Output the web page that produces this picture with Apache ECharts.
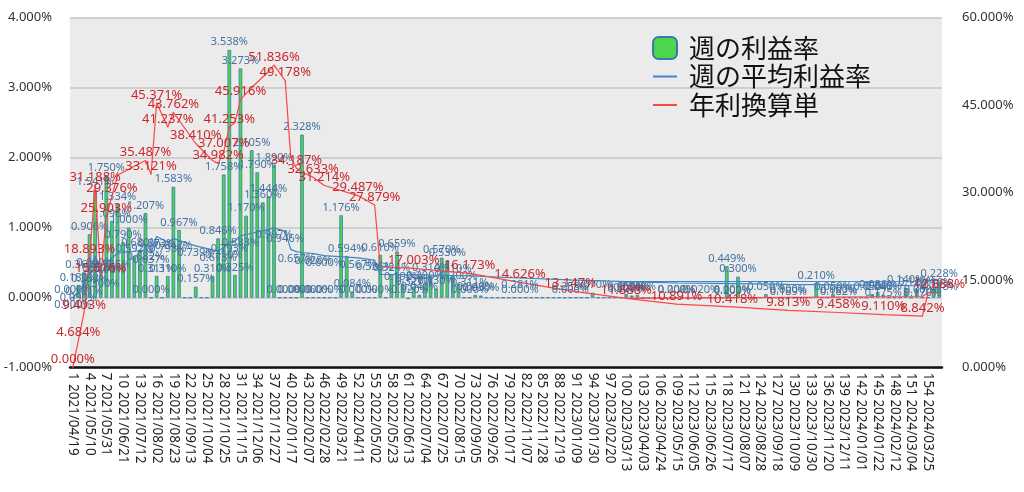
<!DOCTYPE html>
<html><head><meta charset="utf-8">
<script src="https://cdn.jsdelivr.net/npm/echarts@6/dist/echarts.min.js"></script>
<style>html,body{margin:0;padding:0;background:#fff}#c{width:1024px;height:492px}</style>
</head><body><div id="c"></div>
<script>
// ---- data ----
const startDate = '2021-04-19';
const weekCount = 156;
const seriesNames = ['週の利益率', '週の平均利益率', '年利換算単'];
// weekly profit rate (%), one per week
const weekly = [
 0, 0.18, 0.362, 0.906, 1.541, 0.318, 1.75, 1.096, 1.334, 0.79,
 1.0, 0.592, 0.68, 1.207, 0, 0.311, 0, 0.31, 1.583, 0.967,
 0, 0, 0.157, 0, 0, 0.31, 0.846, 1.758, 3.538, 0.325,
 3.273, 1.17, 2.105, 1.79, 1.36, 1.444, 1.89, 0, 0, 0,
 0, 2.328, 0, 0, 0, 0, 0, 0, 1.176, 0.594,
 0.084, 0, 0, 0, 0, 0.61, 0, 0.324, 0.659, 0.192,
 -0.02, 0.157, 0.04, 0.2, 0.314, 0.13, 0.57, 0.53, 0.31, 0.2,
 0, 0, 0.04, 0.03, 0, 0, 0, 0, 0, 0,
 0, 0, 0, 0, 0, 0, 0, 0, 0, 0,
 0, 0, 0, 0.07, 0, 0, 0, 0, 0, 0.05,
 0.03, 0.04, 0, 0, 0, 0, 0, 0, 0, 0,
 0, 0, -0.02, 0, 0, 0, 0, 0.449, 0, 0.3,
 0, 0, 0, 0, 0.05, 0, 0, 0, 0, 0,
 0, 0, 0, 0.21, 0, 0, 0.05, 0, 0, 0,
 0, 0, 0, 0.05, 0.08, 0.04, 0, 0, 0, 0.14,
 0, 0.12, 0, 0, 0.11, 0.228
];
// average weekly rate (%): [week, value, label shown 1/0]
const avgPoints = [
 [1,0,1],[2,0.09,1],[3,0.181,1],[4,0.363,1],[5,0.6,1],[6,0.3,1],[7,0.498,1],[8,0.565,1],[9,0.635,0],[10,0.645,0],
 [12,0.663,0],[14,0.682,1],[15,0.637,1],[16,0.873,1],[18,0.793,1],[19,0.842,1],[23,0.739,1],[26,0.683,0],[27,0.673,1],[28,0.71,1],
 [29,0.793,1],[30,0.81,0],[31,0.883,1],[33,0.92,0],[36,0.975,0],[37,0.997,1],[39,0.946,1],[40,0.69,0],[41,0.657,1],[42,0.645,0],
 [44,0.628,1],[46,0.6,1],[52,0.567,1],[55,0.536,1],[56,0.333,0],[62,0.327,1],[72,0.311,1],[81,0.281,1],[90,0.253,1],[100,0.229,1],
 [109,0.209,1],[119,0.2,1],[129,0.189,1],[138,0.182,1],[146,0.175,1],[153,0.17,1],[154,0.247,0],[156,0.248,1]
];
// second, unlabeled trace of the average seen in the last part
const avgUpper = [[100,0.229],[153,0.234],[154,0.247]];
// annualized rate (%): [week, value, label shown 1/0]
const annualPoints = [
 [1,0,1],[2,4.684,1],[3,9.403,1],[4,18.893,1],[5,31.188,1],[6,15.616,1],[7,25.903,1],[8,29.376,1],[9,33.0,0],[10,33.5,0],
 [12,34.5,0],[14,35.487,1],[15,33.121,1],[16,45.371,1],[18,41.237,1],[19,43.762,1],[23,38.41,1],[26,35.5,0],[27,34.982,1],[28,37.007,1],
 [29,41.253,1],[30,42.0,0],[31,45.916,1],[33,48.0,0],[36,50.7,0],[37,51.836,1],[39,49.178,1],[40,36.0,0],[41,34.187,1],[42,33.5,0],
 [44,32.633,1],[46,31.214,1],[52,29.487,1],[55,27.879,1],[56,17.3,0],[62,17.003,1],[72,16.173,1],[81,14.626,1],[90,13.147,1],[100,11.888,1],
 [109,10.891,1],[119,10.418,1],[129,9.813,1],[138,9.458,1],[146,9.11,1],[153,8.842,1],[154,12.85,0],[156,12.888,1]
];
// second, unlabeled trace of the annualized rate seen in the last part
const annualUpper = [[100,11.888],[153,12.2],[154,12.85]];
const leftAxis = {min: -1, max: 4, step: 1};
const rightAxis = {min: 0, max: 60, step: 15};

// ---- build ----
function cats() {
  const out = [];
  const d = new Date(startDate + 'T00:00:00Z');
  for (let i = 0; i < weekCount; i++) {
    const t = new Date(d.getTime() + i * 7 * 86400000);
    const s = t.getUTCFullYear() + '/' + String(t.getUTCMonth() + 1).padStart(2, '0') + '/' + String(t.getUTCDate()).padStart(2, '0');
    out.push((i + 1) + ' ' + s);
  }
  return out;
}
function sparse(points) {
  const arr = new Array(weekCount).fill(null);
  points.forEach(p => {
    arr[p[0] - 1] = (p.length > 2) ? {value: p[1], label: {show: !!p[2]}} : p[1];
  });
  return arr;
}
const fmt = v => (v == null ? '' : Number(v).toFixed(3) + '%');
const labelWeeks = new Set(avgPoints.filter(p => p[2]).map(p => p[0]));

const chart = echarts.init(document.getElementById('c'), null, {renderer: 'canvas'});
const FONT = '"Noto Sans", "Noto Sans CJK JP", sans-serif';
const BLUE = '#3f86c8', RED = '#ff4545';
const lineBase = (name, axis, color, data, label) => ({
  name, type: 'line', yAxisIndex: axis, connectNulls: true,
  symbol: 'circle', symbolSize: 1, showSymbol: true,
  lineStyle: {color, width: 1.2}, itemStyle: {color},
  label: label || {show: false}, data
});
chart.setOption({
  animation: false,
  backgroundColor: '#ffffff',
  textStyle: {fontFamily: FONT},
  grid: {left: 70, right: 82, top: 17.5, bottom: 124.3, show: true, backgroundColor: '#ebebeb', borderWidth: 0},
  legend: {
    orient: 'vertical', left: 647, top: 30, itemWidth: 24, itemHeight: 22, itemGap: 2.5,
    textStyle: {fontSize: 26, lineHeight: 26, color: '#111', fontFamily: '"Noto Sans CJK JP", sans-serif', padding: [0, 0, 0, 7]},
    data: [
      {name: seriesNames[0]},
      {name: seriesNames[1], itemStyle: {color: 'rgba(0,0,0,0)', borderWidth: 0}},
      {name: seriesNames[2], itemStyle: {color: 'rgba(0,0,0,0)', borderWidth: 0}}
    ]
  },
  xAxis: {
    type: 'category', data: cats(), boundaryGap: true,
    axisLine: {onZero: false, lineStyle: {color: '#111', width: 2.5}},
    axisTick: {show: false},
    axisLabel: {interval: 2, rotate: -90, margin: 5, fontSize: 13.5, color: '#222', fontFamily: FONT}
  },
  yAxis: [
    {type: 'value', min: leftAxis.min, max: leftAxis.max, interval: leftAxis.step,
     axisLine: {show: false}, axisTick: {show: false},
     splitLine: {lineStyle: {color: '#c6c6c6', width: 1.5}},
     axisLabel: {formatter: v => v.toFixed(3) + '%', fontSize: 13, color: '#333', margin: 18}},
    {type: 'value', min: rightAxis.min, max: rightAxis.max, interval: rightAxis.step,
     axisLine: {show: false}, axisTick: {show: false}, splitLine: {show: false},
     axisLabel: {formatter: v => v.toFixed(3) + '%', fontSize: 13, color: '#333', margin: 20}}
  ],
  series: [
    {name: seriesNames[0], type: 'bar', yAxisIndex: 0, barWidth: 3.6,
     itemStyle: {color: '#4bd64b', borderColor: '#3a78b4', borderWidth: 0.8},
     label: {show: true, position: 'top', distance: 2, fontSize: 11, color: '#44729f',
       formatter: p => (p.value !== 0 || labelWeeks.has(p.dataIndex + 1)) ? fmt(p.value) : ''},
     data: weekly},
    lineBase(seriesNames[1], 0, BLUE, sparse(avgUpper)),
    lineBase(seriesNames[1], 0, BLUE, sparse(avgPoints),
      {show: true, position: 'bottom', distance: 1, fontSize: 11, color: '#44729f', formatter: p => fmt(p.value)}),
    lineBase(seriesNames[2], 1, RED, sparse(annualUpper)),
    lineBase(seriesNames[2], 1, RED, sparse(annualPoints),
      {show: true, position: 'top', distance: 1, fontSize: 13, color: '#c8282d', formatter: p => fmt(p.value)})
  ]
});
</script>
</body></html>
